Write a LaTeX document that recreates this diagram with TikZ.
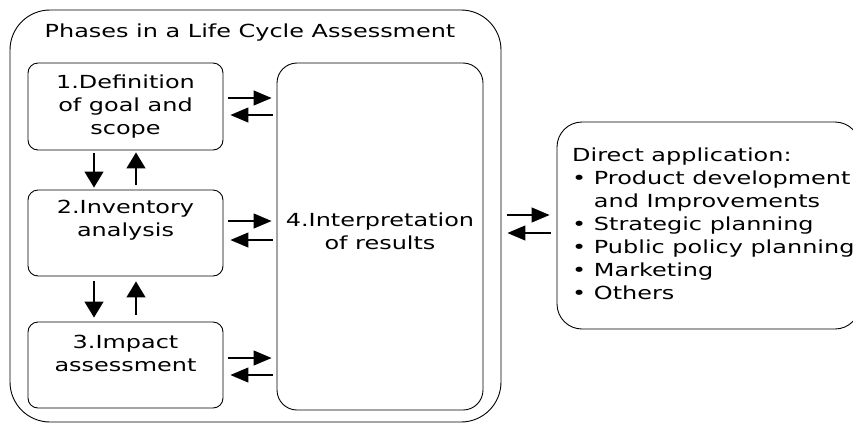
\documentclass[tikz,border=0pt]{standalone}
\usepackage{fontspec}
\setmainfont[FakeStretch=1.33]{DejaVu Sans}
\usetikzlibrary{arrows.meta,positioning}

\begin{document}
\begin{tikzpicture}[x=1pt,y=-1pt,
    frame/.style={draw,line width=0.9pt,inner sep=0pt},
    phase/.style={frame,rounded corners=10pt,minimum width=195pt,minimum height=86pt},
    txt/.style={align=center,inner sep=0pt,font=\fontsize{18}{23}\selectfont},
    harr/.style={line width=1.2pt,-{Triangle[length=18pt,width=15pt]}},
    varr/.style={line width=1.2pt,-{Triangle[length=16pt,width=19pt]}}]
    \useasboundingbox (0,0) rectangle (853,424);
    % outer frame and the phase boxes
    \node[frame,rounded corners=40pt,minimum width=491pt,minimum height=412pt] (lca) at (255.5,216) {};
    \node[txt] (lcatitle) at (250,33) {Phases in a Life Cycle Assessment};
    \node[phase,minimum height=87pt] (goal) at (125.5,106.5) {};
    \node[phase] (inventory) at (125.5,233) {};
    \node[phase] (impact) at (125.5,365) {};
    \node[frame,rounded corners=20pt,minimum width=206pt,minimum height=347pt] (interp) at (380,236.5) {};
    \node[frame,rounded corners=25pt,minimum width=303pt,minimum height=207pt] (apps) at (708.5,225.5) {};
    % texts
    \node[txt,below=12pt of goal.north] (goaltxt) {1.Definition\\of goal and\\scope};
    \node[txt,below=10pt of inventory.north] (inventorytxt) {2.Inventory\\analysis};
    \node[txt,below=13pt of impact.north] (impacttxt) {3.Impact\\assessment};
    \node[txt] (interptxt) at (380,231) {4.Interpretation\\of results};
    \node[txt,align=left,anchor=north west] (appstxt) at (572,148)
        {Direct application:\\
         • Product development\\
         \hphantom{• }and Improvements\\
         • Strategic planning\\
         • Public policy planning\\
         • Marketing\\
         • Others};
    % arrows between the phases
    \draw[harr] ([xshift=5pt]goal.east |- 0,98) -- ([xshift=-5pt]interp.west |- 0,98);
    \draw[harr] ([xshift=-4pt]interp.west |- 0,115) -- ([xshift=7pt]goal.east |- 0,115);
    \draw[harr] ([xshift=5pt]inventory.east |- 0,221) -- ([xshift=-5pt]interp.west |- 0,221);
    \draw[harr] ([xshift=-4pt]interp.west |- 0,240) -- ([xshift=7pt]inventory.east |- 0,240);
    \draw[harr] ([xshift=5pt]impact.east |- 0,358) -- ([xshift=-5pt]interp.west |- 0,358);
    \draw[harr] ([xshift=-4pt]interp.west |- 0,375) -- ([xshift=7pt]impact.east |- 0,375);
    \draw[varr] ([yshift=-3pt]goal.south -| 94,0) -- ([yshift=2pt]inventory.north -| 94,0);
    \draw[varr] ([yshift=5pt]inventory.north -| 136,0) -- ([yshift=-2pt]goal.south -| 136,0);
    \draw[varr] ([yshift=-5pt]inventory.south -| 94,0) -- ([yshift=4pt]impact.north -| 94,0);
    \draw[varr] ([yshift=7pt]impact.north -| 136,0) -- ([yshift=-5pt]inventory.south -| 136,0);
    % to the applications
    \draw[harr] ([xshift=6pt]lca.east |- 0,215) -- ([xshift=-7pt]apps.west |- 0,215);
    \draw[harr] ([xshift=-6pt]apps.west |- 0,233) -- ([xshift=6pt]lca.east |- 0,233);
\end{tikzpicture}
\end{document}
